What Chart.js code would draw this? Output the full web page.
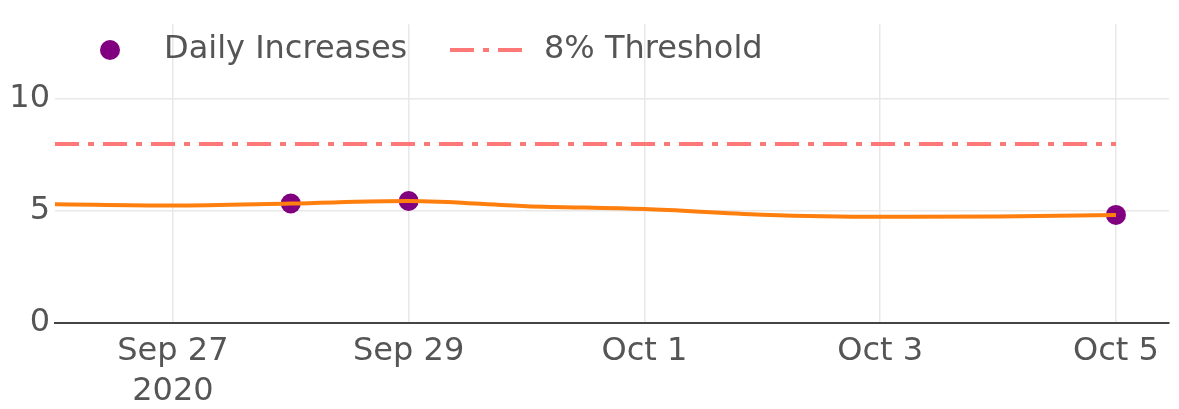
<!DOCTYPE html>
<html>
<head>
<meta charset="utf-8">
<script src="https://cdn.jsdelivr.net/npm/chart.js@4.4.1/dist/chart.umd.min.js"></script>
<style>
  html, body { margin: 0; padding: 0; background: #fff; }
  #wrap { width: 1179px; height: 409px; }
</style>
</head>
<body>
<div id="wrap"><canvas id="myChart"></canvas></div>
<script>
// days on the x axis, Sep 26 2020 .. Oct 5 2020
var dayNames = ['Sep 26','Sep 27','Sep 28','Sep 29','Sep 30','Oct 1','Oct 2','Oct 3','Oct 4','Oct 5'];
var trendValues = [5.31, 5.25, 5.34, 5.45, 5.22, 5.09, 4.84, 4.75, 4.76, 4.83];
var increaseDays = ['Sep 28', 'Sep 29', 'Oct 5'];
var increaseValues = [5.34, 5.45, 4.83];
var thresholdValue = 8;
var tickDays = ['Sep 27', 'Sep 29', 'Oct 1', 'Oct 3', 'Oct 5'];
var yearLabel = '2020';
var yTicks = [0, 5, 10];

var textColor = '#555';
var fontFamily = '"DejaVu Sans", Verdana, sans-serif';

var trendData = [];
for (let i = 0; i < dayNames.length; i++) {
  trendData.push({ x: i, y: trendValues[i] });
}
var increaseData = [];
for (let i = 0; i < increaseDays.length; i++) {
  increaseData.push({ x: dayNames.indexOf(increaseDays[i]), y: increaseValues[i] });
}
var thresholdData = [
  { x: 0, y: thresholdValue },
  { x: dayNames.length - 1, y: thresholdValue }
];
var xTickValues = tickDays.map(function (d) { return dayNames.indexOf(d); });

// legend drawn inside the plot, like the original
var insideLegend = {
  id: 'insideLegend',
  afterDraw: function (chart) {
    var ctx = chart.ctx;
    var ds = chart.data.datasets;
    ctx.save();
    ctx.font = '32px ' + fontFamily;
    ctx.textBaseline = 'middle';
    ctx.textAlign = 'left';
    // Daily Increases
    ctx.beginPath();
    ctx.arc(110, 50, 10, 0, Math.PI * 2);
    ctx.fillStyle = ds[0].backgroundColor;
    ctx.fill();
    ctx.fillStyle = textColor;
    ctx.fillText(ds[0].label, 164, 50);
    // threshold
    ctx.beginPath();
    ctx.setLineDash(ds[2].borderDash);
    ctx.lineWidth = ds[2].borderWidth;
    ctx.strokeStyle = ds[2].borderColor;
    ctx.moveTo(450, 50);
    ctx.lineTo(524, 50);
    ctx.stroke();
    ctx.setLineDash([]);
    ctx.fillStyle = textColor;
    ctx.fillText(ds[2].label, 544, 50);
    ctx.restore();
  }
};

var myChart;
function render() {
  var canvas = document.getElementById('myChart').getContext('2d');
  myChart = new Chart(canvas, {
    type: 'line',
    data: {
      datasets: [{
        label: 'Daily Increases',
        data: increaseData,
        showLine: false,
        pointRadius: 10,
        pointHoverRadius: 10,
        backgroundColor: 'rgb(128,0,128)',
        borderColor: 'rgb(128,0,128)',
        pointBorderWidth: 0,
        order: 2
      }, {
        label: 'Trend',
        data: trendData,
        borderColor: 'rgb(255,127,14)',
        borderWidth: 4,
        pointRadius: 0,
        cubicInterpolationMode: 'monotone',
        fill: false,
        order: 0
      }, {
        label: '8% Threshold',
        data: thresholdData,
        borderColor: 'rgb(255,120,120)',
        borderWidth: 4,
        borderDash: [24, 9, 6, 9],
        borderCapStyle: 'butt',
        pointRadius: 0,
        fill: false,
        order: 1
      }]
    },
    options: {
      responsive: true,
      maintainAspectRatio: false,
      animation: false,
      layout: { padding: { top: 14, left: 0, right: 0, bottom: 0 } },
      plugins: {
        legend: { display: false },
        tooltip: { enabled: false }
      },
      scales: {
        x: {
          type: 'linear',
          min: 0,
          max: 9.45,
          afterBuildTicks: function (scale) {
            scale.ticks = xTickValues.map(function (v) { return { value: v }; });
          },
          afterFit: function (scale) { scale.height = 86; },
          ticks: {
            autoSkip: false,
            maxRotation: 0,
            padding: 9,
            color: textColor,
            font: { family: fontFamily, size: 32, lineHeight: 1.25 },
            callback: function (value) {
              var name = dayNames[Math.round(value)];
              return Math.round(value) === xTickValues[0] ? [name, yearLabel] : name;
            }
          },
          grid: { color: '#e8e8e8', lineWidth: 1.5, drawTicks: false },
          border: { color: '#444', width: 2 }
        },
        y: {
          min: 0,
          max: 13.35,
          afterBuildTicks: function (scale) {
            scale.ticks = yTicks.map(function (v) { return { value: v }; });
          },
          afterFit: function (scale) { scale.width = 55; },
          ticks: {
            padding: 5,
            color: textColor,
            font: { family: fontFamily, size: 32 }
          },
          grid: {
            drawTicks: false,
            lineWidth: 1.5,
            color: function (ctx) { return ctx.tick && ctx.tick.value === 0 ? 'rgba(0,0,0,0)' : '#e8e8e8'; }
          },
          border: { display: false }
        }
      }
    },
    plugins: [insideLegend]
  });
}
render();
</script>
</body>
</html>
